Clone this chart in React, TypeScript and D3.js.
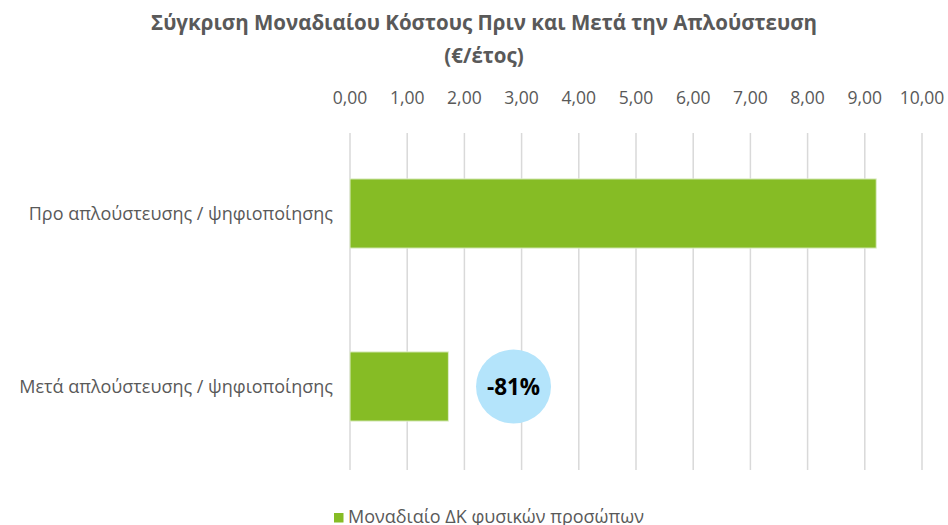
import React from "react";
import * as d3 from "d3";

const categories = ["Προ απλούστευσης / ψηφιοποίησης", "Μετά απλούστευσης / ψηφιοποίησης"];
const values = [9.2, 1.72];
const xTicks = [0, 1, 2, 3, 4, 5, 6, 7, 8, 9, 10];
const titleLines = ["Σύγκριση Μοναδιαίου Κόστους Πριν και Μετά την Απλούστευση", "(€/έτος)"];
const seriesName = "Μοναδιαίο ΔΚ φυσικών προσώπων";
const annotationText = "-81%";
const annotationX = 2.85;

const W = 948;
const H = 525;
const FONT = "'Open Sans', sans-serif";
const GREY = "#595959";
const GREEN = "#86bc25";

export default function App() {
  const x = d3.scaleLinear().domain([0, 10]).range([350, 922]);
  const y = d3.scaleBand().domain(categories).range([127, 473]).paddingInner(0.6).paddingOuter(0.3);
  const fmt = (v: number) => d3.format(".2f")(v).replace(".", ",");
  const lastBand = categories[1];
  const cy = y(lastBand)! + y.bandwidth() / 2;

  return (
    <svg width={W} height={H} style={{ position: "absolute", left: 0, top: 0, background: "#fff" }} fontFamily={FONT}>
      {titleLines.map((t, i) => (
        <text key={i} x={484} y={30 + i * 33} textAnchor="middle" fontSize={20.5} fontWeight="bold" fill={GREY}>
          {t}
        </text>
      ))}
      {xTicks.map((t) => (
        <g key={t}>
          <line x1={x(t)} x2={x(t)} y1={133} y2={470} stroke="#d9d9d9" strokeWidth={1.5} />
          <text x={x(t)} y={104} textAnchor="middle" fontSize={17.5} fill={GREY}>
            {fmt(t)}
          </text>
        </g>
      ))}
      {categories.map((c, i) => (
        <g key={c}>
          <rect
            x={x(0)}
            y={y(c)!}
            width={x(values[i]) - x(0)}
            height={y.bandwidth()}
            fill={GREEN}
            stroke="#dfeecb"
            strokeWidth={1}
          />
          <text x={333} y={y(c)! + y.bandwidth() / 2 + 6} textAnchor="end" fontSize={18} fill={GREY}>
            {c}
          </text>
        </g>
      ))}
      <ellipse cx={x(annotationX) + 0.5} cy={cy} rx={37.5} ry={37} fill="#b4e4fb" />
      <text x={x(annotationX) + 0.5} y={cy + 8} textAnchor="middle" fontSize={22.5} fontWeight="bold" fill="#000">
        {annotationText}
      </text>
      <rect x={334} y={513} width={9.5} height={9.5} fill={GREEN} />
      <text x={348} y={523} fontSize={18} fill={GREY}>
        {seriesName}
      </text>
    </svg>
  );
}
